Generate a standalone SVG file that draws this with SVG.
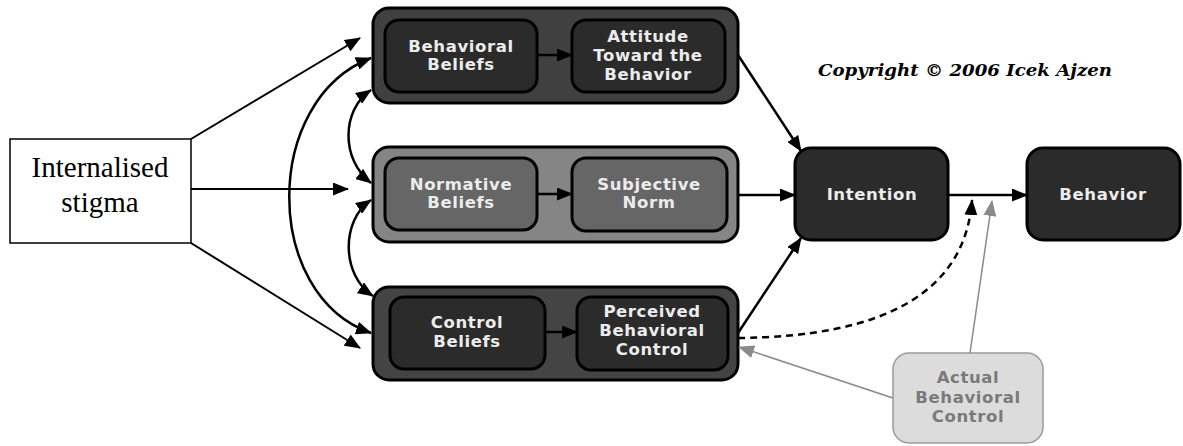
<svg xmlns="http://www.w3.org/2000/svg" width="1183" height="446" viewBox="0 0 1183 446">
<defs>
<marker id="ah" viewBox="0 0 16 13" refX="15" refY="6.5" markerWidth="16" markerHeight="13" markerUnits="userSpaceOnUse" orient="auto-start-reverse"><path d="M0,0 L16,6.5 L0,13 Z" fill="#000"/></marker>
<marker id="ahg" viewBox="0 0 16 13" refX="15" refY="6.5" markerWidth="16" markerHeight="13" markerUnits="userSpaceOnUse" orient="auto"><path d="M0,0 L16,6.5 L0,13 Z" fill="#8a8a8a"/></marker>
<style>
.outer{stroke:#000;stroke-width:3}
.inner{stroke:#000;stroke-width:3;fill:#2b2b2b}
.lbl{font-family:"DejaVu Sans",sans-serif;font-weight:bold;font-size:16.5px;letter-spacing:0.6px;fill:#ececec;text-anchor:middle}
.con{fill:none;stroke:#000;stroke-width:2.5}
.thin{fill:none;stroke:#000;stroke-width:2}
</style>
</defs>
<rect width="1183" height="446" fill="#fff"/>

<g id="stigma">
<rect x="10" y="139" width="181" height="104" fill="#fff" stroke="#000" stroke-width="1.5"/>
<text x="100" y="177" font-family="Liberation Serif, serif" font-size="29" text-anchor="middle">Internalised</text>
<text x="100" y="212" font-family="Liberation Serif, serif" font-size="29" text-anchor="middle">stigma</text>
</g>

<g id="attitude-group">
<rect class="outer" x="373" y="8" width="365" height="95" rx="16" fill="#404040"/>
<g id="behavioral-beliefs">
<rect class="inner" x="385" y="20" width="152" height="72" rx="14"/>
<text class="lbl" x="461" y="52">Behavioral</text>
<text class="lbl" x="461" y="70">Beliefs</text>
</g>
<g id="attitude">
<rect class="inner" x="572" y="20" width="153" height="72" rx="14"/>
<text class="lbl" x="648" y="42">Attitude</text>
<text class="lbl" x="648" y="61">Toward the</text>
<text class="lbl" x="648" y="80">Behavior</text>
</g>
</g>

<g id="norm-group">
<rect class="outer" x="373" y="147" width="365" height="95" rx="16" fill="#858585"/>
<g id="normative-beliefs">
<rect class="inner" x="385" y="158" width="152" height="72" rx="14" style="fill:#666"/>
<text class="lbl" x="461" y="190">Normative</text>
<text class="lbl" x="461" y="208">Beliefs</text>
</g>
<g id="subjective-norm">
<rect class="inner" x="572" y="158" width="155" height="73" rx="14" style="fill:#666"/>
<text class="lbl" x="649" y="190">Subjective</text>
<text class="lbl" x="649" y="208">Norm</text>
</g>
</g>

<g id="control-group">
<rect class="outer" x="373" y="287" width="365" height="93" rx="16" fill="#444"/>
<g id="control-beliefs">
<rect class="inner" x="390" y="297" width="155" height="72" rx="14"/>
<text class="lbl" x="467" y="328">Control</text>
<text class="lbl" x="467" y="347">Beliefs</text>
</g>
<g id="pbc">
<rect class="inner" x="577" y="297" width="151" height="73" rx="14"/>
<text class="lbl" x="652" y="317">Perceived</text>
<text class="lbl" x="652" y="336">Behavioral</text>
<text class="lbl" x="652" y="355">Control</text>
</g>
</g>

<g id="intention">
<rect class="inner" x="795" y="148" width="153" height="92" rx="16"/>
<text class="lbl" x="872" y="200">Intention</text>
</g>
<g id="behavior">
<rect class="inner" x="1027" y="148" width="153" height="92" rx="16"/>
<text class="lbl" x="1103" y="200">Behavior</text>
</g>

<g id="actual-control">
<rect x="893" y="353" width="150" height="90" rx="16" fill="#dcdcdc" stroke="#9a9a9a" stroke-width="1.5"/>
<text class="lbl" x="968" y="383" style="fill:#7a7a7a">Actual</text>
<text class="lbl" x="968" y="403" style="fill:#7a7a7a">Behavioral</text>
<text class="lbl" x="968" y="422" style="fill:#7a7a7a">Control</text>
</g>

<text id="copyright" x="818" y="76" font-family="DejaVu Serif, serif" font-style="italic" font-weight="bold" font-size="16" textLength="294" lengthAdjust="spacingAndGlyphs">Copyright © 2006 Icek Ajzen</text>

<g id="connectors">
<line class="thin" x1="191" y1="139" x2="360" y2="38" marker-end="url(#ah)"/>
<line class="thin" x1="191" y1="189" x2="348" y2="189" marker-end="url(#ah)"/>
<line class="thin" x1="191" y1="243" x2="360" y2="348" marker-end="url(#ah)"/>
<path class="con" d="M371,58 C262,100 262,295 371,333" marker-start="url(#ah)" marker-end="url(#ah)"/>
<path class="con" d="M371,90 C341,110 341,160 371,183" marker-start="url(#ah)" marker-end="url(#ah)"/>
<path class="con" d="M371,200 C341,220 341,275 373,296" marker-start="url(#ah)" marker-end="url(#ah)"/>
<line class="con" x1="537" y1="55" x2="572" y2="55" marker-end="url(#ah)"/>
<line class="con" x1="537" y1="194" x2="572" y2="194" marker-end="url(#ah)"/>
<line class="con" x1="545" y1="332" x2="577" y2="332" marker-end="url(#ah)"/>
<line class="con" x1="738" y1="55" x2="801" y2="151" marker-end="url(#ah)"/>
<line class="con" x1="738" y1="195" x2="795" y2="195" marker-end="url(#ah)"/>
<line class="con" x1="738" y1="333" x2="801" y2="238" marker-end="url(#ah)"/>
<line class="con" x1="948" y1="195" x2="1027" y2="195" marker-end="url(#ah)"/>
<path class="con" d="M738,338 Q962,336 972,200" stroke-dasharray="7 5" marker-end="url(#ah)"/>
<line x1="970" y1="353" x2="992" y2="201" stroke="#8a8a8a" stroke-width="1.5" marker-end="url(#ahg)"/>
<line x1="893" y1="398" x2="739" y2="347" stroke="#8a8a8a" stroke-width="1.5" marker-end="url(#ahg)"/>
</g>
</svg>
